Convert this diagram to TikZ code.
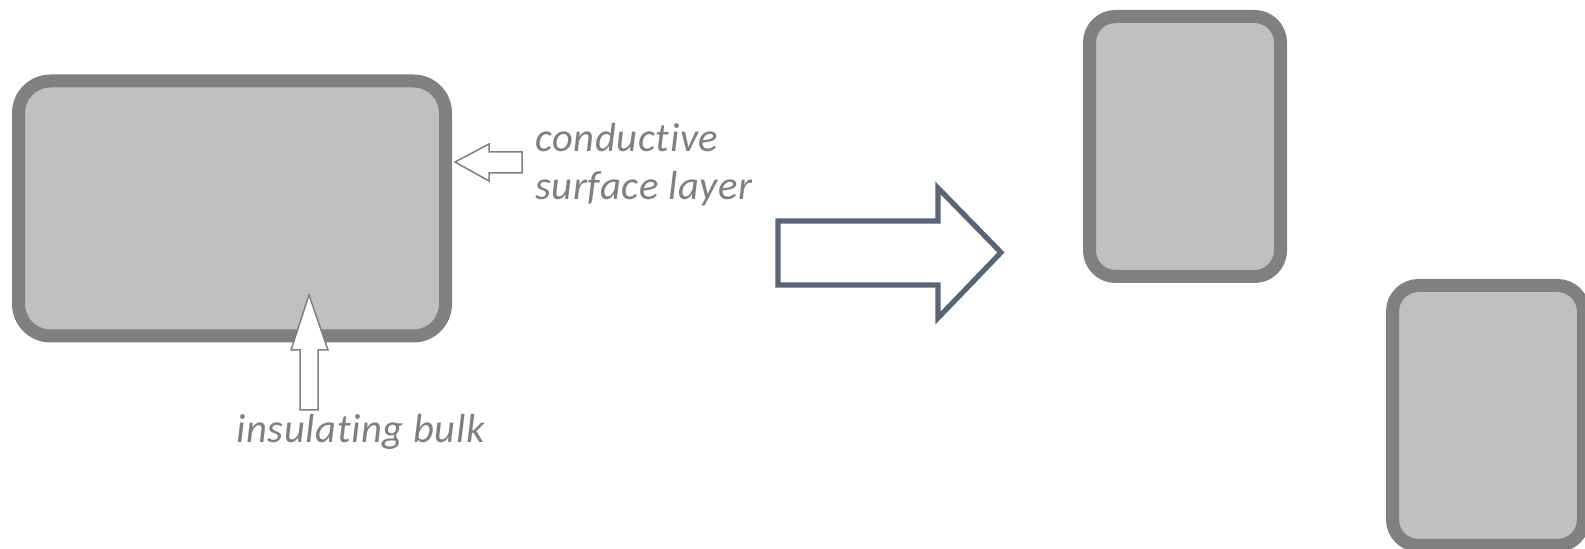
\documentclass[tikz,border=0pt]{standalone}
\usepackage{fontspec}
\setmainfont{Carlito}[Ligatures={NoCommon}, LetterSpace=1.5]
\definecolor{boxfill}{HTML}{C0C0C0}
\definecolor{boxline}{HTML}{808080}
\definecolor{labelgray}{HTML}{7F7F7F}
\definecolor{slate}{RGB}{88,100,120}
\tikzset{
  particle/.style={draw=boxline, fill=boxfill, line width=6.5pt},
  bigparticle/.style={particle, rounded corners=16pt},
  smallparticle/.style={particle, rounded corners=13pt},
  pointer/.style={draw=labelgray, fill=white, line width=0.75pt, line join=miter},
  blockarrow/.style={draw=slate, fill=white, line width=2.6pt, line join=miter},
  label/.style={text=labelgray, font=\fontsize{20.3}{24}\selectfont\itshape, inner sep=0pt, anchor=base west}
}
\begin{document}
\begin{tikzpicture}[x=0.5pt, y=-0.5pt]
\useasboundingbox (0,0) rectangle (1585,549);
% big particle
\draw[bigparticle] (18.5,81) rectangle (445.5,336);
% small particles
\draw[smallparticle] (1089.5,16.5) rectangle (1280.5,276.5);
\draw[smallparticle] (1392.5,285.5) rectangle (1583.5,545.5);
% pointer arrows
\draw[pointer] (309,295) -- (291,350) -- (300,350) -- (300,410) -- (318,410) -- (318,350) -- (328,350) -- cycle;
\draw[pointer] (455,162) -- (489,144) -- (489,152) -- (522,152) -- (522,173) -- (489,173) -- (489,181) -- cycle;
% block arrow
\draw[blockarrow] (778,221) -- (938,221) -- (938,188) -- (1001,252.5) -- (938,318) -- (938,285) -- (778,285) -- cycle;
% labels
\node[label] (cond1) at (535,152) {conductive};
\node[label] (cond2) at (535,200) {surface layer};
\node[label] (ins) at (236,443) {insulating bulk};
\end{tikzpicture}
\end{document}
